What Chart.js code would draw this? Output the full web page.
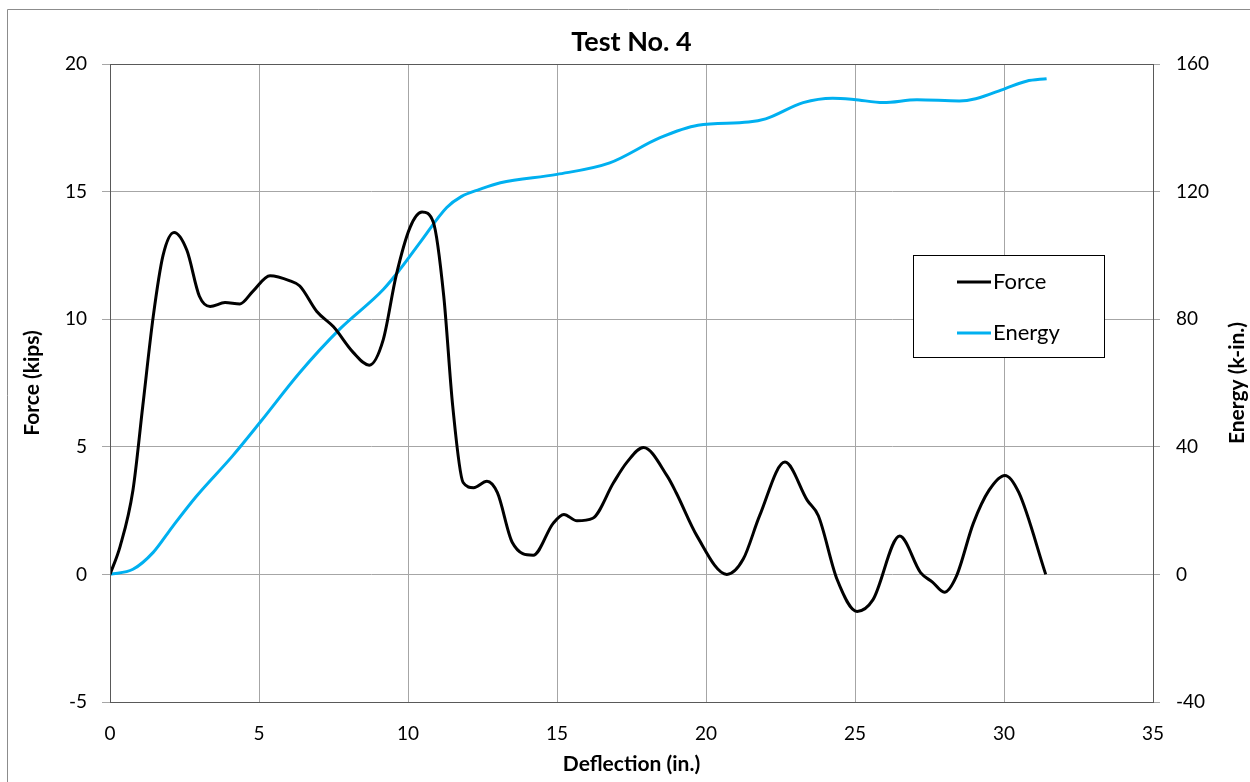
<!DOCTYPE html>
<html>
<head>
<meta charset="utf-8">
<title>Test No. 4</title>
<script src="https://cdn.jsdelivr.net/npm/chart.js@4.4.1/dist/chart.umd.min.js"></script>
<style>
  html, body { margin: 0; padding: 0; background: #fff; }
  canvas { display: block; }
</style>
</head>
<body>
<canvas id="chartTest" width="1250" height="782"></canvas>
<script>
// valores
const forceX = [0, 0.34, 0.77, 1.1, 1.45, 1.78, 2.15, 2.58, 3.0, 3.36, 3.86, 4.36, 4.8, 5.37, 6.04, 6.37, 6.94, 7.5, 8.16, 8.7, 9.17, 9.6, 10.07, 10.47, 10.85, 11.2, 11.5, 11.85, 12.2, 12.65, 13.0, 13.5, 14.2, 14.87, 15.23, 15.67, 16.2, 16.9, 17.35, 17.9, 18.7, 19.0, 19.7, 20.7, 21.25, 21.8, 22.65, 23.4, 23.77, 24.4, 25.07, 25.6, 26.5, 27.2, 27.6, 28.0, 28.4, 28.97, 29.5, 30.03, 30.5, 31.4];
const forceY = [0, 1.1, 3.3, 6.6, 10.1, 12.5, 13.4, 12.7, 10.9, 10.5, 10.65, 10.6, 11.1, 11.7, 11.5, 11.3, 10.3, 9.7, 8.7, 8.2, 9.2, 11.7, 13.6, 14.2, 13.8, 10.9, 6.6, 3.6, 3.4, 3.65, 3.2, 1.25, 0.75, 2.0, 2.35, 2.1, 2.2, 3.6, 4.4, 4.97, 3.85, 3.2, 1.5, 0, 0.6, 2.3, 4.4, 2.9, 2.3, -0.2, -1.45, -1.0, 1.5, 0.07, -0.3, -0.7, -0.08, 2.0, 3.3, 3.88, 3.2, 0];

const energyX = [0, 0.77, 1.45, 2.1, 2.9, 4.1, 5.03, 6.37, 7.7, 9.17, 9.73, 10.4, 11.3, 11.8, 12.4, 13.1, 15.0, 16.77, 18.46, 19.73, 21.43, 22.0, 23.26, 24.25, 24.96, 25.95, 27.08, 28.5, 29.05, 30.04, 30.75, 31.43];
const energyY = [0, 1.6, 6.9, 15, 24.5, 37, 47.6, 63.3, 76.8, 89.3, 95.6, 104, 115, 118.5, 120.7, 122.8, 125.4, 129, 136.9, 140.8, 141.8, 142.8, 147.9, 149.3, 148.9, 147.9, 148.8, 148.4, 149.1, 152.3, 154.6, 155.4];

const xTicks = [0, 5, 10, 15, 20, 25, 30, 35];
const forceTicks = [-5, 0, 5, 10, 15, 20];
const energyTicks = [-40, 0, 40, 80, 120, 160];

const FONT = "Lato, 'Open Sans', sans-serif";
const GRID = "#a6a6a6";
const AXIS = "#595959";

const pares = (xs, ys) => xs.map((x, i) => ({ x: x, y: ys[i] }));

// título, moldura, títulos dos eixos e legenda
const extras = {
    id: 'extras',
    afterDraw(chart) {
        const c = chart.ctx;
        const a = chart.chartArea;
        c.save();

        // moldura externa
        c.strokeStyle = "#8c8c8c";
        c.lineWidth = 1;
        c.beginPath();
        c.moveTo(7.5, 782);
        c.lineTo(7.5, 9.5);
        c.lineTo(1250, 9.5);
        c.stroke();

        // borda da área do gráfico
        c.strokeStyle = AXIS;
        c.strokeRect(a.left + 0.5, a.top + 0.5, a.right - a.left, a.bottom - a.top);

        c.fillStyle = "#000";
        c.textAlign = "center";
        c.textBaseline = "middle";

        c.font = "bold 27px " + FONT;
        c.fillText("Test No. 4", (a.left + a.right) / 2, 42);

        c.font = "bold 21px " + FONT;
        c.fillText("Deflection (in.)", (a.left + a.right) / 2, 764);

        const meio = (a.top + a.bottom) / 2;
        c.save();
        c.translate(32, meio);
        c.rotate(-Math.PI / 2);
        c.fillText("Force (kips)", 0, 0);
        c.restore();

        c.save();
        c.translate(1237, meio);
        c.rotate(-Math.PI / 2);
        c.fillText("Energy (k-in.)", 0, 0);
        c.restore();

        // legenda
        c.fillStyle = "#fff";
        c.fillRect(913.5, 255.5, 191, 102);
        c.strokeStyle = "#000";
        c.lineWidth = 1;
        c.strokeRect(913.5, 255.5, 191, 102);
        c.font = "22px " + FONT;
        c.textAlign = "left";
        chart.data.datasets.forEach((ds, i) => {
            const y = 282 + i * 51;
            c.strokeStyle = ds.borderColor;
            c.lineWidth = 3;
            c.beginPath();
            c.moveTo(957, y);
            c.lineTo(991, y);
            c.stroke();
            c.fillStyle = "#000";
            c.fillText(ds.label, 993, y);
        });

        c.restore();
    }
};

new Chart(document.getElementById('chartTest'), {
    type: 'line',
    data: {
        datasets: [{
            label: "Force",
            data: pares(forceX, forceY),
            yAxisID: 'y',
            borderColor: "#000000",
            backgroundColor: "#000000",
            borderWidth: 3,
            pointRadius: 0,
            cubicInterpolationMode: 'monotone',
            fill: false
        }, {
            label: "Energy",
            data: pares(energyX, energyY),
            yAxisID: 'y2',
            borderColor: "#00B0F0",
            backgroundColor: "#00B0F0",
            borderWidth: 3,
            pointRadius: 0,
            cubicInterpolationMode: 'monotone',
            fill: false
        }]
    },
    options: {
        responsive: false,
        animation: false,
        devicePixelRatio: 1,
        layout: { padding: { top: 64, left: 0, right: 0, bottom: 0 } },
        plugins: {
            legend: { display: false },
            title: { display: false },
            tooltip: { enabled: false }
        },
        scales: {
            x: {
                type: 'linear',
                min: 0, max: 35,
                afterBuildTicks: s => { s.ticks = xTicks.map(v => ({ value: v })); },
                afterFit: s => { s.height = 80; },
                ticks: { color: "#000", font: { family: FONT, size: 19 }, padding: 20, maxRotation: 0 },
                grid: { color: GRID, tickLength: 0 },
                border: { color: AXIS }
            },
            y: {
                position: 'left',
                min: -5, max: 20,
                afterBuildTicks: s => { s.ticks = forceTicks.map(v => ({ value: v })); },
                afterFit: s => { s.width = 110; },
                ticks: { color: "#000", font: { family: FONT, size: 19 }, padding: 15 },
                grid: { color: GRID, tickLength: 8 },
                border: { color: AXIS }
            },
            y2: {
                position: 'right',
                min: -40, max: 160,
                afterBuildTicks: s => { s.ticks = energyTicks.map(v => ({ value: v })); },
                afterFit: s => { s.width = 97; },
                ticks: { color: "#000", font: { family: FONT, size: 19 }, padding: 16 },
                grid: { drawOnChartArea: false, color: GRID, tickLength: 7 },
                border: { color: AXIS }
            }
        }
    },
    plugins: [extras]
});
</script>
</body>
</html>
